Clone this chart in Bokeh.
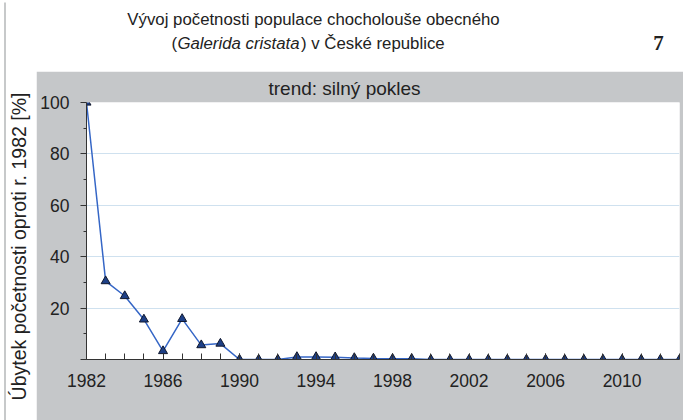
import math
from bokeh.plotting import figure
from bokeh.models import Range1d, FixedTicker, Label
from bokeh.layouts import row, column
from bokeh.embed import file_html
from bokeh.resources import INLINE

# ---- data ----
years = list(range(1982, 2014))
values = [100, 30.5, 24.7, 15.6, 3.3, 15.8, 5.6, 6.2, 0, 0, 0, 1.0, 1.0, 0.9,
          0.6, 0.4, 0.3, 0.3, 0, 0, 0, 0, 0, 0, 0, 0, 0, 0, 0, 0, 0, 0]
x_tick_years = [1982, 1986, 1990, 1994, 1998, 2002, 2006, 2010]
y_ticks = [0, 20, 40, 60, 80, 100]
y_minor = [10, 30, 50, 70, 90]
grid_ticks = [20, 40, 60, 80]

title_line1 = "Vývoj početnosti populace chocholouše obecného"
title_species = "Galerida cristata"
title_rest = ") v České republice"
panel_title = "trend: silný pokles"
y_label = "Úbytek početnosti oproti r. 1982 [%]"
chart_no = "7"

GRAY = "#c5c7c9"
TXT = "#222222"
FONT = "Liberation Sans"

# ---- main plot ----
p = figure(width=647, height=349, output_backend="svg", toolbar_location=None,
           x_range=Range1d(years[0], years[-1]), y_range=Range1d(y_ticks[0], y_ticks[-1]),
           min_border_left=50, min_border_right=4, min_border_top=30,
           min_border_bottom=61)
p.border_fill_color = GRAY
p.background_fill_color = "white"
p.outline_line_color = None

p.title.text = panel_title
p.title.align = "left"
p.title.offset = 182
p.title.standoff = 8
p.title.text_font = FONT
p.title.text_font_size = "19px"
p.title.text_font_style = "normal"
p.title.text_color = TXT

p.xgrid.visible = False
p.ygrid.ticker = FixedTicker(ticks=grid_ticks)
p.ygrid.grid_line_color = "#cfe1ef"
p.ygrid.grid_line_width = 1

xa = p.xaxis[0]
xa.ticker = FixedTicker(ticks=x_tick_years, minor_ticks=years)
xa.major_tick_in = 6
xa.major_tick_out = 0
xa.minor_tick_in = 6
xa.minor_tick_out = 0
xa.axis_line_color = "#333333"
xa.major_tick_line_color = "#333333"
xa.minor_tick_line_color = "#333333"
xa.major_label_standoff = 14
xa.major_label_text_font_size = "17.5px"
xa.major_label_text_font = FONT
xa.major_label_text_color = TXT

ya = p.yaxis[0]
ya.ticker = FixedTicker(ticks=y_ticks, minor_ticks=y_minor)
ya.major_label_overrides = {0: ""}
ya.major_tick_in = 0
ya.major_tick_out = 6
ya.minor_tick_in = 0
ya.minor_tick_out = 3
ya.axis_line_color = "#333333"
ya.major_tick_line_color = "#333333"
ya.minor_tick_line_color = "#333333"
ya.major_label_standoff = 11
ya.major_label_text_font_size = "17.5px"
ya.major_label_text_font = FONT
ya.major_label_text_color = TXT

p.line(years, values, line_color="#3566c6", line_width=1.5)
p.scatter(years, values, marker="triangle", size=9, fill_color="#1d3f86",
          line_color="#10182e", line_width=1)

# ---- title strip (its frame is aligned with the main frame: page x 86..679) ----
tf = figure(width=647, height=71, output_backend="svg", toolbar_location=None,
            x_range=Range1d(86, 679), y_range=Range1d(0, 71),
            min_border_left=50, min_border_right=4, min_border_top=0,
            min_border_bottom=0, x_axis_type=None, y_axis_type=None)
tf.outline_line_color = None
tf.background_fill_color = "white"
tf.border_fill_color = "white"
tf.grid.visible = False

TS = "16.8px"
tf.add_layout(Label(x=313, y=52, text=title_line1, text_align="center",
                    text_baseline="alphabetic", text_font_size=TS,
                    text_font=FONT, text_color=TXT))
tf.add_layout(Label(x=171, y=28, text="(", text_align="left",
                    text_baseline="alphabetic", text_font_size=TS,
                    text_font=FONT, text_color=TXT))
tf.add_layout(Label(x=176.9, y=28, text=title_species, text_align="left",
                    text_baseline="alphabetic", text_font_size=TS,
                    text_font=FONT, text_font_style="italic", text_color=TXT))
tf.add_layout(Label(x=300.5, y=28, text=title_rest, text_align="left",
                    text_baseline="alphabetic", text_font_size=TS,
                    text_font=FONT, text_color=TXT))
tf.add_layout(Label(x=658, y=29, text=chart_no, text_align="center",
                    text_baseline="alphabetic", text_font_size="21px",
                    text_font="Liberation Serif", text_font_style="bold",
                    text_color=TXT))

# ---- y label strip ----
lf = figure(width=36, height=420, output_backend="svg", toolbar_location=None,
            x_range=Range1d(0, 36), y_range=Range1d(0, 420), min_border=0,
            x_axis_type=None, y_axis_type=None)
lf.outline_line_color = None
lf.background_fill_color = "white"
lf.border_fill_color = "white"
lf.grid.visible = False
lf.line(x=[4.5, 4.5], y=[0, 418], line_color="#b5b7b9", line_width=1.5)
lf.add_layout(Label(x=18, y=174, text=y_label, angle=math.pi / 2,
                    text_align="center", text_baseline="middle",
                    text_font_size="19.5px", text_font=FONT, text_color=TXT))

layout = row(lf, column(tf, p))
open("out.html", "w").write(file_html(layout, INLINE))
